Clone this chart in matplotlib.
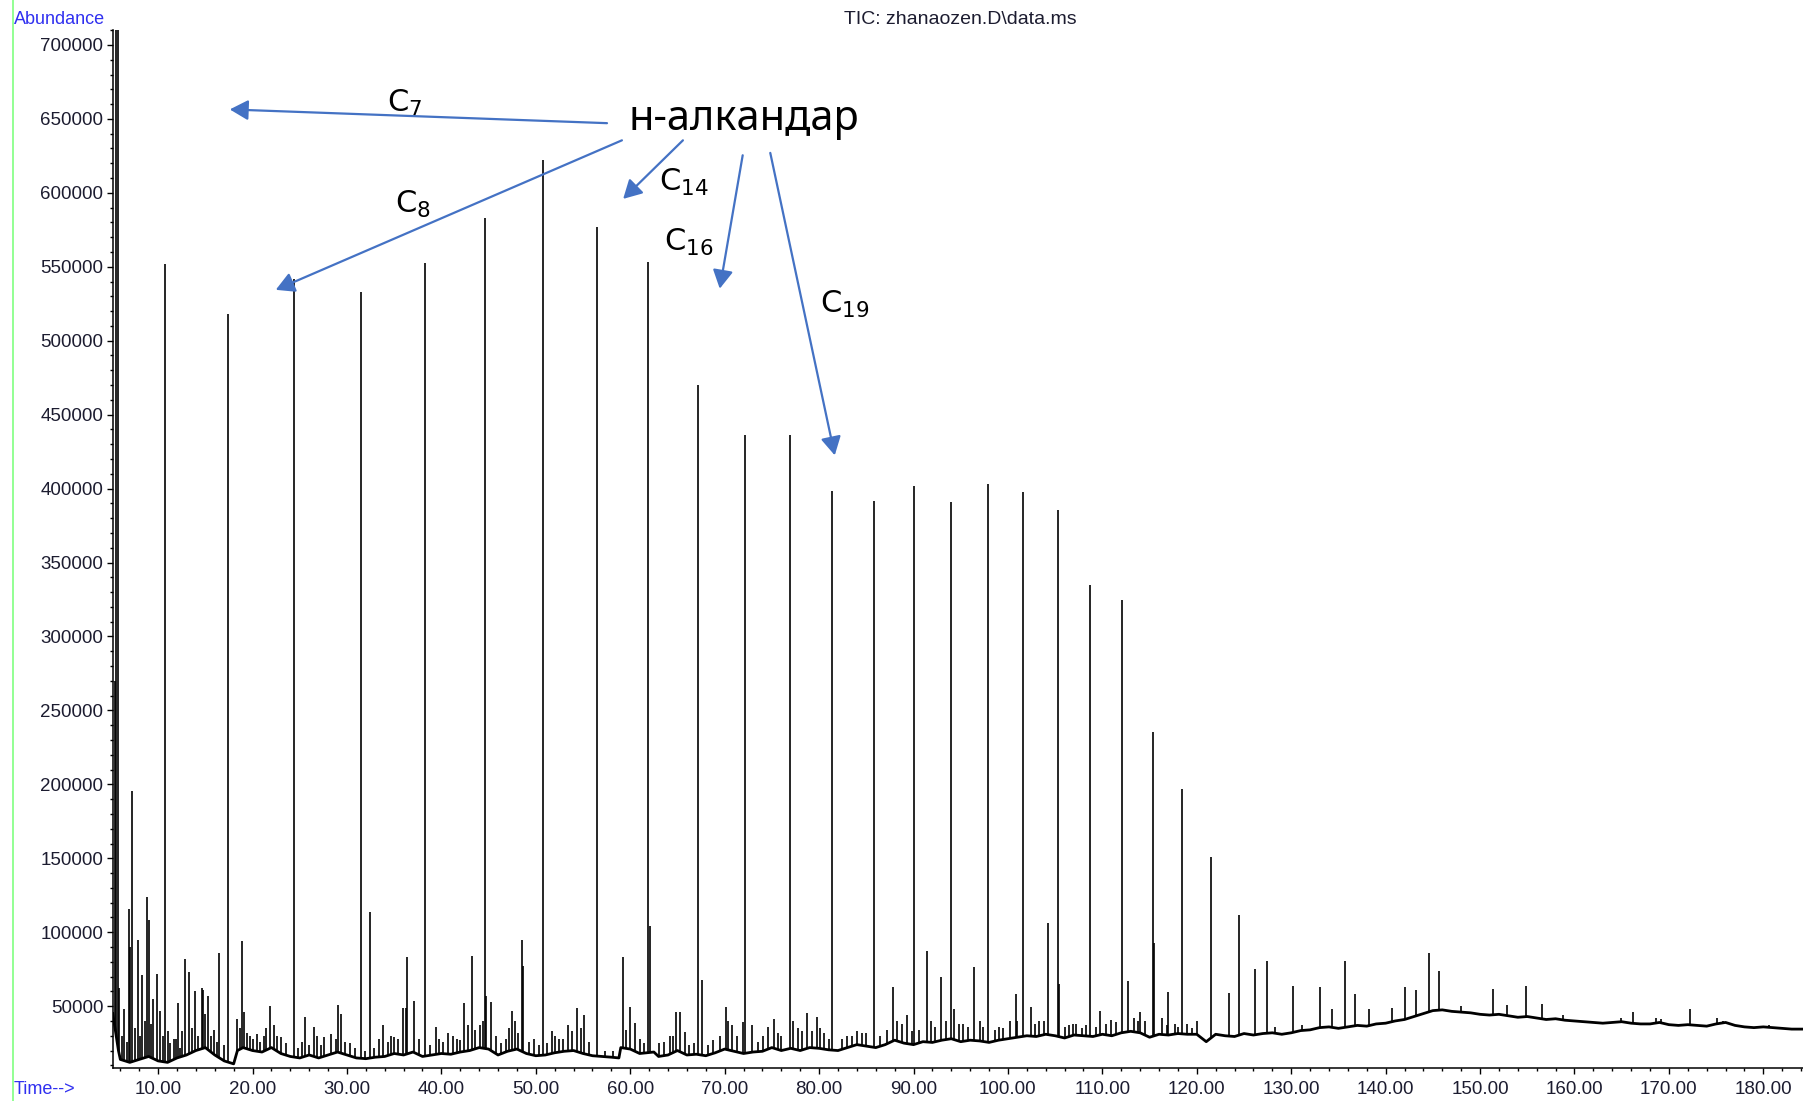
import numpy as np
import matplotlib
matplotlib.use("Agg")
import matplotlib.pyplot as plt
from matplotlib.lines import Line2D
from matplotlib.ticker import MultipleLocator, FormatStrFormatter

# n-alkane peaks: retention time (min), abundance at apex
alkane_t = [5.55, 5.75, 7.23, 10.77, 17.35, 24.41, 31.47, 38.29, 44.63, 50.72,
            56.44, 61.92, 67.16, 72.15, 76.90, 81.41, 85.80, 90.06, 93.96,
            97.86, 101.63, 105.29, 108.70, 112.10, 115.40, 118.45, 121.50, 124.45]
alkane_h = [730000, 720000, 195400, 551600, 518100, 541400, 532900, 552300,
            582700, 622300, 577200, 553100, 469900, 436500, 436500, 398400,
            391400, 401500, 390600, 403000, 397600, 385200, 334600, 324500,
            235100, 197000, 151100, 111400]

# other resolved peaks
minor_t = [5.45, 5.9, 6.4, 6.9, 7.0, 7.9, 8.3, 8.8, 9.0, 9.5, 9.85, 10.2, 11.0,
           11.7, 12.1, 12.5, 12.9, 13.3, 13.9, 14.6, 14.8, 15.3, 15.9, 16.5,
           18.4, 18.9, 19.1, 19.4, 20.5, 21.2, 21.4, 21.9, 22.3, 23.0, 25.6,
           26.5, 27.6, 28.3, 29.0, 29.4, 30.3, 32.4, 33.8, 35.0, 35.9, 36.2,
           36.4, 37.1, 39.4, 40.7, 41.7, 42.4, 42.8, 43.2, 44.1, 44.75, 45.3,
           46.3, 47.5, 47.8, 48.5, 48.6, 49.8, 51.7, 52.5, 53.4, 54.4, 55.1,
           59.2, 60.0, 60.5, 62.1, 64.5, 64.8, 65.3, 65.8, 67.6, 70.1, 70.4,
           70.8, 71.9, 72.9, 74.6, 75.2, 76.0, 77.2, 78.7, 79.3, 79.8, 80.5,
           83.5, 84.5, 87.8, 88.3, 89.3, 91.4, 91.9, 92.9, 94.3, 95.2, 96.4,
           97.0, 99.5, 100.2, 100.9, 102.4, 103.3, 104.2, 105.4, 106.5, 107.2,
           109.8, 110.9, 112.7, 113.3, 114.0, 115.45, 116.3, 117.0, 117.7,
           119.0, 120.0, 123.4, 126.2, 127.4, 128.3, 130.2, 131.1, 133.05,
           134.3, 135.7, 136.8, 138.2, 140.7, 142.05, 143.2, 144.6, 145.6,
           148.0, 151.4, 152.8, 154.9, 156.6, 158.8, 164.9, 166.2, 168.6,
           169.2, 172.2, 175.1, 175.7, 180.6]
minor_h = [270000, 62000, 48000, 116000, 90000, 95000, 71000, 124000, 108000,
           55000, 72000, 47000, 33000, 28000, 52000, 33000, 82000, 73000, 60000,
           62000, 61000, 57000, 34000, 86000, 41000, 94000, 46000, 32000, 31000,
           30000, 35000, 50000, 37000, 29000, 43000, 36000, 29000, 31000, 51000,
           45000, 25000, 114000, 37000, 29000, 48500, 49000, 83000, 53600,
           36000, 31600, 28000, 52000, 37000, 84000, 37000, 57000, 53000, 25000,
           47000, 40000, 95000, 77000, 28000, 33000, 28000, 37000, 48500, 44000,
           83500, 49600, 38300, 104000, 30000, 46300, 46300, 32800, 67700,
           49600, 40000, 37200, 39500, 37200, 36000, 41000, 30000, 40000, 45100,
           33000, 42900, 32000, 30000, 32000, 62700, 40000, 44000, 87500, 40000,
           69500, 48000, 38000, 76300, 40000, 35000, 40000, 58000, 49600, 40000,
           106400, 64900, 37000, 38000, 47000, 40800, 66700, 42000, 46300,
           92500, 42000, 59800, 38000, 38000, 40000, 58700, 74900, 80500, 36000,
           63600, 37000, 62700, 47900, 80500, 58200, 47900, 48500, 62700, 60900,
           86000, 73800, 50100, 61400, 50800, 63600, 51300, 44000, 41800, 46300,
           41800, 41100, 47900, 41800, 40300, 37300]

# small spikes riding on the baseline
spike_t = [6.2, 6.7, 7.5, 8.1, 8.6, 9.3, 10.5, 11.3, 11.9, 12.3, 13.6, 14.2,
           15.0, 15.6, 16.2, 17.0, 18.7, 19.7, 20.1, 20.8, 22.6, 23.5, 24.8,
           25.2, 26.0, 26.8, 27.2, 28.8, 29.8, 30.8, 31.9, 32.9, 33.4, 34.3,
           34.7, 35.4, 37.6, 38.8, 39.8, 40.2, 41.2, 42.0, 43.6, 44.4, 45.8,
           46.8, 47.2, 48.1, 49.3, 50.3, 51.2, 52.0, 52.9, 53.8, 54.8, 55.6,
           57.3, 58.2, 59.6, 61.0, 61.5, 63.0, 63.6, 64.2, 66.2, 66.7, 68.2,
           68.8, 69.5, 71.3, 73.5, 74.1, 75.7, 77.8, 78.2, 80.1, 81.0, 82.4,
           83.0, 84.0, 85.0, 86.5, 87.2, 88.8, 89.8, 90.6, 92.3, 93.4, 94.8,
           95.8, 97.4, 98.6, 99.1, 101.0, 102.9, 103.8, 106.0, 106.9, 107.8,
           108.3, 109.3, 110.4, 111.4, 113.8, 114.5, 116.8, 118.0, 119.5]
spike_h = [30000, 26000, 35000, 30000, 40000, 38000, 30000, 25000, 28000,
           22000, 35000, 30000, 45000, 30000, 26000, 24000, 35000, 30000, 28000,
           26000, 30000, 25000, 22000, 26000, 24000, 30000, 24000, 28000, 26000,
           22000, 20000, 22000, 28000, 26000, 30000, 28000, 28000, 24000, 28000,
           26000, 30000, 27000, 34000, 40000, 30000, 28000, 35000, 32000, 26000,
           24000, 25000, 30000, 28000, 33000, 35000, 26000, 20000, 20000, 34000,
           28000, 25000, 25000, 26000, 30000, 24000, 25000, 24000, 27000, 30000,
           30000, 26000, 30000, 32000, 35000, 33000, 35000, 28000, 28000, 30000,
           33000, 32000, 30000, 34000, 38000, 33000, 34000, 36000, 40000, 38000,
           36000, 36000, 34000, 36000, 40000, 38000, 40000, 36000, 38000, 35000,
           37000, 36000, 38000, 39000, 40000, 40000, 37000, 36000, 35000]

# baseline of the trace
base_t = [5.2, 5.8, 6, 7, 8, 9, 10, 11, 12, 13, 14, 15, 16, 17, 18, 18.4, 19,
          20, 21, 22, 23, 24, 25, 26, 27, 28, 29, 30, 31, 32, 33, 34, 35, 36,
          37, 38, 39, 40, 41, 42, 43, 44, 45, 46, 47, 48, 49, 50, 51, 52, 53,
          54, 55, 56, 57, 58, 58.8, 59, 60, 61, 62.5, 63, 64, 65, 66, 67, 68,
          69, 70, 71, 72, 73, 74, 75, 76, 77, 78, 79, 80, 81, 82, 83, 84, 85,
          86, 87, 88, 89, 90, 91, 92, 93, 94, 95, 96, 97, 98, 99, 100, 101,
          102, 103, 104, 105, 106, 107, 108, 109, 110, 111, 112, 113, 114,
          115, 116, 117, 118, 119, 120, 121, 122, 123, 124, 125, 126, 127,
          128, 129, 130, 131, 132, 133, 134, 135, 136, 137, 138, 139, 140,
          141, 142, 143, 144, 145, 146, 147, 148, 149, 150, 151, 152, 153,
          154, 155, 156, 157, 158, 159, 160, 161, 162, 163, 164, 165, 166,
          167, 168, 169, 170, 171, 172, 173, 174, 175, 176, 177, 178, 179,
          180, 181, 182, 183, 184.2]
base_v = [45000, 20000, 14000, 12000, 14000, 16000, 13000, 12000, 15000, 17000,
          20000, 22000, 17000, 13000, 11000, 20000, 22000, 20000, 19000, 22000,
          18000, 16000, 15000, 17000, 15000, 17000, 19000, 17000, 15000, 14500,
          15500, 16000, 18000, 17000, 19000, 16000, 17000, 18000, 17500, 19000,
          20000, 22000, 21000, 17000, 19500, 21000, 18000, 16500, 17000, 18500,
          19500, 20000, 18000, 16500, 16000, 15500, 15000, 22000, 21000, 18000,
          19000, 16000, 17000, 20000, 17000, 17500, 16500, 18500, 21000, 19500,
          18000, 19000, 19500, 22000, 20000, 21500, 20000, 22000, 21500, 20500,
          20000, 22000, 24000, 23000, 22000, 24000, 27000, 25000, 24000, 26000,
          25500, 27000, 28000, 26000, 27000, 26500, 25500, 27000, 28000, 29000,
          30000, 29500, 31000, 30000, 28500, 30500, 30000, 29500, 31000, 30000,
          32000, 33000, 32000, 29000, 31000, 30500, 31500, 31000, 31000, 26000,
          31000, 30000, 29500, 31500, 30500, 31500, 32000, 31000, 32000, 33500,
          34000, 35500, 36000, 35000, 36000, 37000, 36500, 38000, 38500, 40000,
          41000, 43000, 45000, 47000, 47500, 46500, 46000, 45500, 44500, 44000,
          44500, 43500, 42500, 43000, 42000, 41000, 41500, 40500, 40000, 39500,
          39000, 38500, 39000, 39500, 38500, 38000, 38000, 39000, 37500, 37000,
          37500, 37000, 36500, 38000, 39000, 37000, 36000, 35500, 36000, 35500,
          35000, 34500, 34500]

# n-alkane callouts: label, label anchor (time, abundance), arrow tail, arrow tip
callout_labels = ["7", "8", "14", "16", "19"]
callout_text_pos = [(34.2, 655000), (35.1, 586400), (63.0, 601200),
                    (63.6, 560700), (80.1, 518700)]
arrow_tail = [(57.54, 647100), (59.12, 635500), (65.58, 635500),
              (71.91, 625400), (74.83, 627000)]
arrow_tip = [(17.59, 656400), (22.46, 534400), (59.25, 595900),
             (69.48, 535200), (81.66, 422500)]

W, H = 1803, 1101
plt.rcParams["mathtext.fontset"] = "custom"
plt.rcParams["mathtext.rm"] = "Noto Sans"
fig = plt.figure(figsize=(W / 100, H / 100), dpi=100)
ax = fig.add_axes([112.5 / W, 1 - 1067.7 / H, (W - 112.5) / W, (1067.7 - 30) / H])

peak_t = alkane_t + minor_t + spike_t
peak_h = alkane_h + minor_h + spike_h
foot = np.interp(peak_t, base_t, base_v)
ax.vlines(peak_t, foot, peak_h, color="black", lw=1.2)
ax.plot(base_t, base_v, color="black", lw=2.0)

ax.set_xlim(5.17, 184.2)
ax.set_ylim(8400, 710100)
for s in ["top", "right"]:
    ax.spines[s].set_visible(False)
for s in ["left", "bottom"]:
    ax.spines[s].set_linewidth(1.1)

ax.xaxis.set_major_locator(MultipleLocator(10))
ax.xaxis.set_minor_locator(MultipleLocator(2))
ax.xaxis.set_major_formatter(FormatStrFormatter("%.2f"))
ax.yaxis.set_major_locator(MultipleLocator(50000))
ax.yaxis.set_minor_locator(MultipleLocator(10000))
ax.yaxis.set_major_formatter(FormatStrFormatter("%d"))
ax.tick_params(which="major", length=4.5, width=1, labelsize=13.5,
               labelcolor="#1c1c30", labelfontfamily="Liberation Sans")
ax.tick_params(which="minor", length=2.5, width=1)
ax.tick_params(axis="x", pad=5)
ax.tick_params(axis="y", pad=2)

fig.add_artist(Line2D([13 / W, 13 / W], [0, 1], color="#80ff80", lw=1.2))
fig.text(14 / W, 1 - 19 / H, "Abundance", color="#3030f0", fontsize=13,
         family="Liberation Sans", va="center", ha="left")
fig.text(14 / W, 1 - 1090 / H, "Time-->", color="#3030f0", fontsize=13,
         family="Liberation Sans", va="center", ha="left")
fig.text(960 / W, 1 - 19 / H, "TIC: zhanaozen.D\\data.ms", color="#1c1c30",
         fontsize=14, family="Liberation Sans", va="center", ha="center")

ax.text(72.0, 642500, "н-алкандар", fontsize=30, family="Noto Sans",
        ha="center", va="baseline")
for lab, (tx, ty) in zip(callout_labels, callout_text_pos):
    ax.text(tx, ty, r"$\mathregular{C_{%s}}$" % lab, fontsize=22,
            ha="left", va="baseline")
for tail, tip in zip(arrow_tail, arrow_tip):
    ax.annotate("", xy=tip, xytext=tail,
                arrowprops=dict(arrowstyle="-|>,head_length=0.4,head_width=0.22",
                                mutation_scale=28, color="#4472c4", lw=1.6,
                                shrinkA=0, shrinkB=0))

fig.savefig("out.png", dpi=100)
